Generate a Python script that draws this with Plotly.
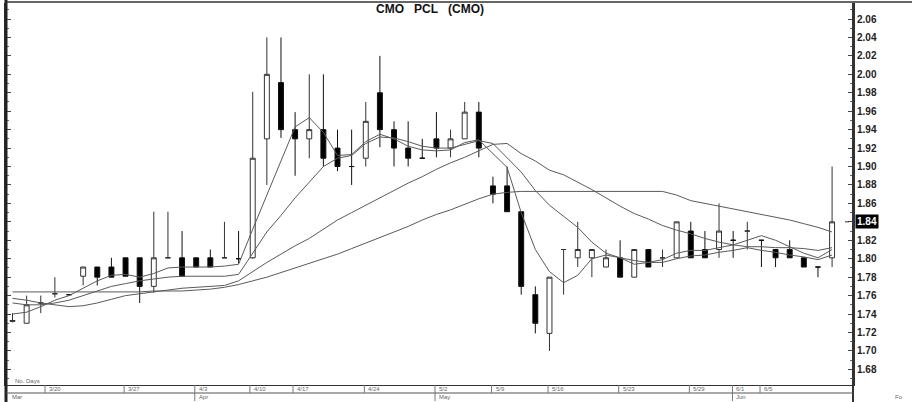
import plotly.graph_objects as go

# ---------------- data ----------------
idx = list(range(59))
opens = [1.732, 1.730, 1.752, 1.762, 1.761, 1.781, 1.791, 1.791, 1.801, 1.801,
         1.770, 1.801, 1.801, 1.801, 1.801, 1.801, 1.800, 1.801, 1.930, 1.991,
         1.940, 1.930, 1.940, 1.920, 1.900, 1.909, 1.980, 1.940, 1.920, 1.909,
         1.930, 1.920, 1.930, 1.959, 1.879, 1.879, 1.851, 1.761, 1.719, 1.810,
         1.801, 1.801, 1.791, 1.801, 1.780, 1.810, 1.801, 1.801, 1.830, 1.810,
         1.810, 1.820, 1.830, 1.820, 1.810, 1.810, 1.801, 1.791, 1.801]
highs = [1.741, 1.760, 1.760, 1.780, 1.761, 1.791, 1.791, 1.801, 1.801, 1.801,
         1.851, 1.851, 1.830, 1.801, 1.810, 1.840, 1.830, 1.981, 2.040, 2.040,
         1.959, 2.000, 2.000, 1.940, 1.940, 1.970, 2.020, 1.949, 1.949, 1.930,
         1.959, 1.940, 1.970, 1.970, 1.889, 1.900, 1.851, 1.770, 1.780, 1.810,
         1.840, 1.810, 1.810, 1.820, 1.810, 1.810, 1.810, 1.840, 1.840, 1.830,
         1.860, 1.830, 1.840, 1.820, 1.810, 1.820, 1.801, 1.791, 1.900]
lows = [1.731, 1.730, 1.741, 1.758, 1.761, 1.771, 1.771, 1.780, 1.781, 1.752,
        1.763, 1.801, 1.781, 1.791, 1.791, 1.801, 1.795, 1.800, 1.880, 1.931,
        1.890, 1.909, 1.900, 1.895, 1.880, 1.900, 1.921, 1.900, 1.900, 1.909,
        1.910, 1.910, 1.930, 1.910, 1.860, 1.851, 1.761, 1.719, 1.700, 1.761,
        1.791, 1.780, 1.791, 1.780, 1.780, 1.791, 1.791, 1.801, 1.801, 1.801,
        1.801, 1.801, 1.810, 1.791, 1.791, 1.801, 1.791, 1.780, 1.791]
closes = [1.733, 1.750, 1.752, 1.762, 1.761, 1.791, 1.780, 1.780, 1.781, 1.770,
          1.801, 1.801, 1.781, 1.791, 1.791, 1.801, 1.800, 1.909, 2.000, 1.940,
          1.930, 1.940, 1.909, 1.900, 1.900, 1.949, 1.940, 1.920, 1.909, 1.909,
          1.920, 1.930, 1.959, 1.920, 1.870, 1.851, 1.770, 1.730, 1.780, 1.810,
          1.810, 1.810, 1.801, 1.780, 1.810, 1.791, 1.801, 1.840, 1.801, 1.801,
          1.830, 1.820, 1.830, 1.820, 1.801, 1.801, 1.791, 1.791, 1.840]

ma_fast = [1.740, 1.742, 1.748, 1.755, 1.760, 1.768, 1.776, 1.782, 1.783, 1.780,
           1.784, 1.790, 1.791, 1.791, 1.791, 1.792, 1.794, 1.832, 1.869, 1.906,
           1.943, 1.953, 1.937, 1.912, 1.913, 1.927, 1.935, 1.930, 1.922, 1.918,
           1.917, 1.918, 1.926, 1.929, 1.914, 1.899, 1.850, 1.810, 1.786, 1.774,
           1.782, 1.800, 1.804, 1.801, 1.794, 1.796, 1.799, 1.806, 1.809, 1.809,
           1.812, 1.815, 1.820, 1.825, 1.820, 1.813, 1.806, 1.801, 1.810]
ma_mid = [1.752, 1.750, 1.750, 1.752, 1.755, 1.760, 1.765, 1.770, 1.773, 1.776,
          1.778, 1.780, 1.781, 1.781, 1.781, 1.781, 1.783, 1.806, 1.829, 1.847,
          1.866, 1.883, 1.900, 1.909, 1.912, 1.925, 1.932, 1.931, 1.927, 1.922,
          1.920, 1.920, 1.924, 1.928, 1.925, 1.910, 1.894, 1.874, 1.858, 1.846,
          1.834, 1.818, 1.806, 1.801, 1.798, 1.796, 1.796, 1.800, 1.803, 1.804,
          1.807, 1.809, 1.812, 1.809, 1.807, 1.804, 1.802, 1.799, 1.804]
ma_long = [1.757, 1.755, 1.752, 1.750, 1.748, 1.749, 1.752, 1.756, 1.760, 1.762,
           1.764, 1.766, 1.768, 1.769, 1.770, 1.771, 1.776, 1.786, 1.796, 1.805,
           1.814, 1.822, 1.832, 1.842, 1.850, 1.858, 1.866, 1.874, 1.882, 1.889,
           1.897, 1.904, 1.910, 1.917, 1.924, 1.925, 1.914, 1.906, 1.896, 1.891,
           1.883, 1.875, 1.866, 1.857, 1.849, 1.843, 1.836, 1.831, 1.827, 1.822,
           1.818, 1.815, 1.813, 1.813, 1.812, 1.812, 1.811, 1.809, 1.812]
ma_slow = [1.764, 1.764, 1.764, 1.764, 1.764, 1.764, 1.764, 1.764, 1.764, 1.764,
           1.765, 1.765, 1.765, 1.766, 1.767, 1.769, 1.772, 1.776, 1.780, 1.785,
           1.790, 1.795, 1.800, 1.805, 1.811, 1.817, 1.823, 1.829, 1.835, 1.842,
           1.848, 1.853, 1.859, 1.865, 1.870, 1.872, 1.873, 1.873, 1.873, 1.873,
           1.873, 1.873, 1.873, 1.873, 1.873, 1.873, 1.873, 1.869, 1.863, 1.860,
           1.857, 1.854, 1.851, 1.848, 1.845, 1.842, 1.838, 1.834, 1.829]

date_labels = ["3/20", "3/27", "4/3", "4/10", "4/17", "4/24", "5/2", "5/9",
               "5/16", "5/23", "5/29", "6/1", "6/5"]
date_pos = [2.3, 7.9, 12.9, 16.8, 19.85, 24.9, 29.9, 33.9, 37.9, 42.9, 47.9, 50.95, 52.9]
month_labels = ["Mar", "Apr", "May", "Jun"]
month_pos = [-0.3, 12.9, 29.9, 50.95]
last_price = 1.84
title_text = "CMO\u00a0\u00a0\u00a0PCL\u00a0\u00a0\u00a0(CMO)"

# ---------------- figure ----------------
W, H = 914, 402
ML, MR, MT, MB = 6, 61, 3, 17
PH = H - MT - MB
PW = W - ML - MR


def py(px):  # pixel row -> paper y
    return (H - MB - px) / PH


def pxx(px):  # pixel column -> paper x
    return (px - ML) / PW


fig = go.Figure()
fig.add_trace(go.Candlestick(
    x=idx, open=opens, high=highs, low=lows, close=closes,
    increasing=dict(line=dict(color="#333333", width=1), fillcolor="white"),
    decreasing=dict(line=dict(color="#111111", width=1), fillcolor="black"),
    whiskerwidth=0, showlegend=False, hoverinfo="skip"))
for ma in (ma_slow, ma_long, ma_mid, ma_fast):
    fig.add_trace(go.Scatter(x=idx, y=ma, mode="lines",
                             line=dict(color="#5a5a5a", width=1),
                             showlegend=False, hoverinfo="skip"))

ytop = 2.06 + 16 / 922
ybot = ytop - PH / 922

fig.update_layout(
    width=W, height=H, margin=dict(l=ML, r=MR, t=MT, b=MB),
    paper_bgcolor="white", plot_bgcolor="white", boxgap=0.5,
    font=dict(family="Liberation Sans, Arial, sans-serif", color="#222"),
    xaxis=dict(range=[-0.46, 59.48], showgrid=False, zeroline=False,
               showticklabels=False, ticks="", showline=True, linecolor="#333",
               linewidth=1, rangeslider=dict(visible=False), fixedrange=True),
    yaxis=dict(range=[ybot, ytop], side="right", showgrid=False, zeroline=False,
               tickmode="linear", tick0=1.68, dtick=0.02, tickformat=".2f",
               ticks="inside", ticklen=5, tickcolor="#444", showline=True,
               linecolor="#333", linewidth=2, mirror="ticks",
               minor=dict(dtick=0.01, ticks="inside", ticklen=3, tickcolor="#666"),
               tickfont=dict(size=10, color="#222", weight="bold",
                             family="Liberation Sans, Arial, sans-serif"),
               fixedrange=True),
)

shapes = []
# thick left border
shapes.append(dict(type="line", xref="paper", yref="paper", x0=0, x1=0,
                   y0=py(402), y1=py(0), line=dict(color="#222", width=3)))
# top border
shapes.append(dict(type="line", xref="paper", yref="paper", x0=0, x1=pxx(912),
                   y0=py(2), y1=py(2), line=dict(color="#333", width=1.5)))
# right axis line extended
shapes.append(dict(type="line", xref="paper", yref="paper", x0=1, x1=1,
                   y0=py(402), y1=1, line=dict(color="#333", width=2)))
# date strip bottom line
shapes.append(dict(type="line", xref="paper", yref="paper", x0=0, x1=1,
                   y0=py(393), y1=py(393), line=dict(color="#555", width=1)))
month_starts = {"4/3", "5/2", "6/1"}
for lab, pos in zip(date_labels, date_pos):
    bottom = 401 if lab in month_starts else 393
    shapes.append(dict(type="line", xref="x", yref="paper", x0=pos, x1=pos,
                       y0=py(bottom), y1=0, line=dict(color="#777", width=1)))
# last price pointer
shapes.append(dict(type="line", xref="paper", yref="y", x0=pxx(845), x1=pxx(849),
                   y0=last_price, y1=last_price, line=dict(color="#333", width=1)))
fig.update_layout(shapes=shapes)

ann = []
ann.append(dict(text="<b>" + title_text + "</b>", xref="paper", yref="paper",
                x=pxx(430), y=py(9), xanchor="center", yanchor="middle",
                showarrow=False, font=dict(size=12, color="#111")))
ann.append(dict(text="No. Days", xref="paper", yref="paper", x=pxx(13), y=py(381),
                xanchor="left", yanchor="middle", showarrow=False,
                font=dict(size=6, color="#666")))
for lab, pos in zip(date_labels, date_pos):
    ann.append(dict(text=lab, xref="x", yref="paper", x=pos, y=py(389),
                    xanchor="left", yanchor="middle", xshift=2, showarrow=False,
                    font=dict(size=6, color="#666")))
for lab, pos in zip(month_labels, month_pos):
    ann.append(dict(text=lab, xref="x", yref="paper", x=pos, y=py(397),
                    xanchor="left", yanchor="middle", xshift=2, showarrow=False,
                    font=dict(size=6, color="#666")))
ann.append(dict(text="Fo", xref="paper", yref="paper", x=pxx(893), y=py(397),
                xanchor="left", yanchor="middle", showarrow=False,
                font=dict(size=6, color="#666")))
ann.append(dict(text="<b>%.2f</b>" % last_price, xref="paper", yref="y", x=1,
                y=last_price, xanchor="left", yanchor="middle", xshift=2,
                showarrow=False, bgcolor="black", borderpad=1,
                font=dict(size=10, color="white")))
fig.update_layout(annotations=ann)

# remove the browser's default 8px page margin so the figure fills the window
fig.write_html("out.html",
               config={"displayModeBar": False, "staticPlot": True},
               post_script="document.body.style.margin='0';"
                           "document.body.style.overflow='hidden';")
